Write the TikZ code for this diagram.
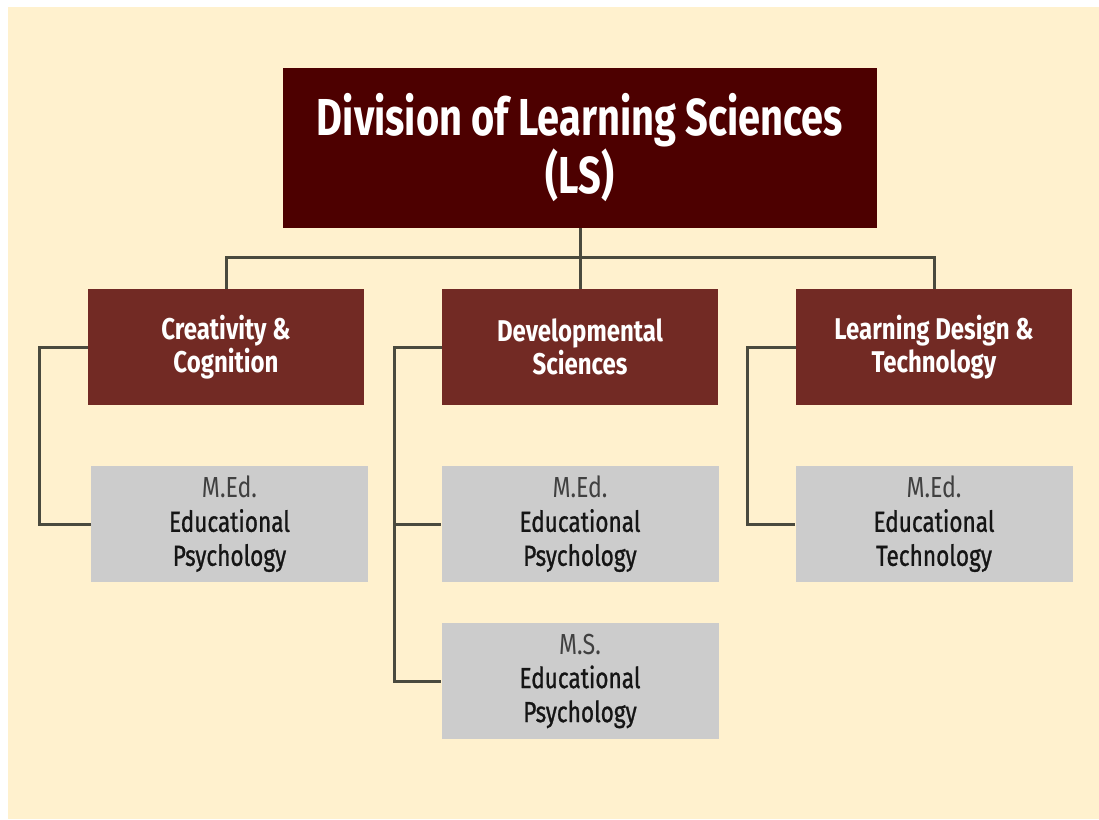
\documentclass[tikz,border=0pt]{standalone}
\usepackage{fontspec}
\setmainfont{Fira Sans}[FakeStretch=0.8]
\newfontfamily\titlefont{Fira Sans}[FakeStretch=0.765]
\newfontfamily\degreefont{Fira Sans}[FakeStretch=0.78, FakeBold=0.9]
\definecolor{cream}{HTML}{FFF1CE}
\definecolor{topred}{HTML}{4D0000}
\definecolor{midred}{HTML}{722A24}
\definecolor{degbox}{HTML}{CCCCCC}
\definecolor{linkgray}{HTML}{4A4A3E}
\definecolor{degtext}{HTML}{151515}
\definecolor{levtext}{HTML}{404040}
\begin{document}
\begin{tikzpicture}[x=1pt,y=-1pt,
  topbox/.style={fill=topred, text=white, minimum width=594pt, minimum height=160pt,
    inner sep=0pt, align=center, font=\titlefont\bfseries\fontsize{52}{58}\selectfont},
  deptbox/.style={fill=midred, text=white, minimum width=276pt, minimum height=116pt,
    inner sep=0pt, align=center, font=\bfseries\fontsize{30}{33}\selectfont},
  degreebox/.style={fill=degbox, text=degtext, minimum width=277pt, minimum height=116pt,
    inner sep=0pt, align=center, font=\fontsize{29}{34}\selectfont},
  link/.style={draw=linkgray, line width=3pt, line join=miter}]
  % canvas
  \fill[white] (0,0) rectangle (1099,819);
  \fill[cream] (8,7) rectangle (1099,819);
  \useasboundingbox (0,0) rectangle (1099,819);

  % division
  \node[topbox] (top) at (580,148) {Division of Learning Sciences\\(LS)};

  % departments
  \node[deptbox] (m1) at (226,347) {Creativity \&\\Cognition};
  \node[deptbox] (m2) at (580,347) {Developmental\\Sciences};
  \node[deptbox] (m3) at (934,347) {Learning Design \&\\Technology};

  % degree programmes
  \node[degreebox] (g1) at (229.5,524) {{\color{levtext}M.Ed.}\\{\degreefont Educational}\\{\degreefont Psychology}};
  \node[degreebox] (g2) at (580,524) {{\color{levtext}M.Ed.}\\{\degreefont Educational}\\{\degreefont Psychology}};
  \node[degreebox] (g4) at (580,681) {{\color{levtext}M.S.}\\{\degreefont Educational}\\{\degreefont Psychology}};
  \node[degreebox] (g3) at (934,524) {{\color{levtext}M.Ed.}\\{\degreefont Educational}\\{\degreefont Technology}};

  % division to departments
  \draw[link] (top.south) -- (m2.north);
  \draw[link] (m1.north) -- ++(0,-31) -| (m3.north);

  % departments to degrees
  \draw[link] (m1.west) -- ++(-48,0) |- (g1.west);
  \draw[link] (m2.west) -- ++(-47,0) coordinate (t2) |- (g4.west);
  \draw[link] (t2) |- (g2.west);
  \draw[link] (m3.west) -- ++(-48,0) |- (g3.west);
\end{tikzpicture}
\end{document}
